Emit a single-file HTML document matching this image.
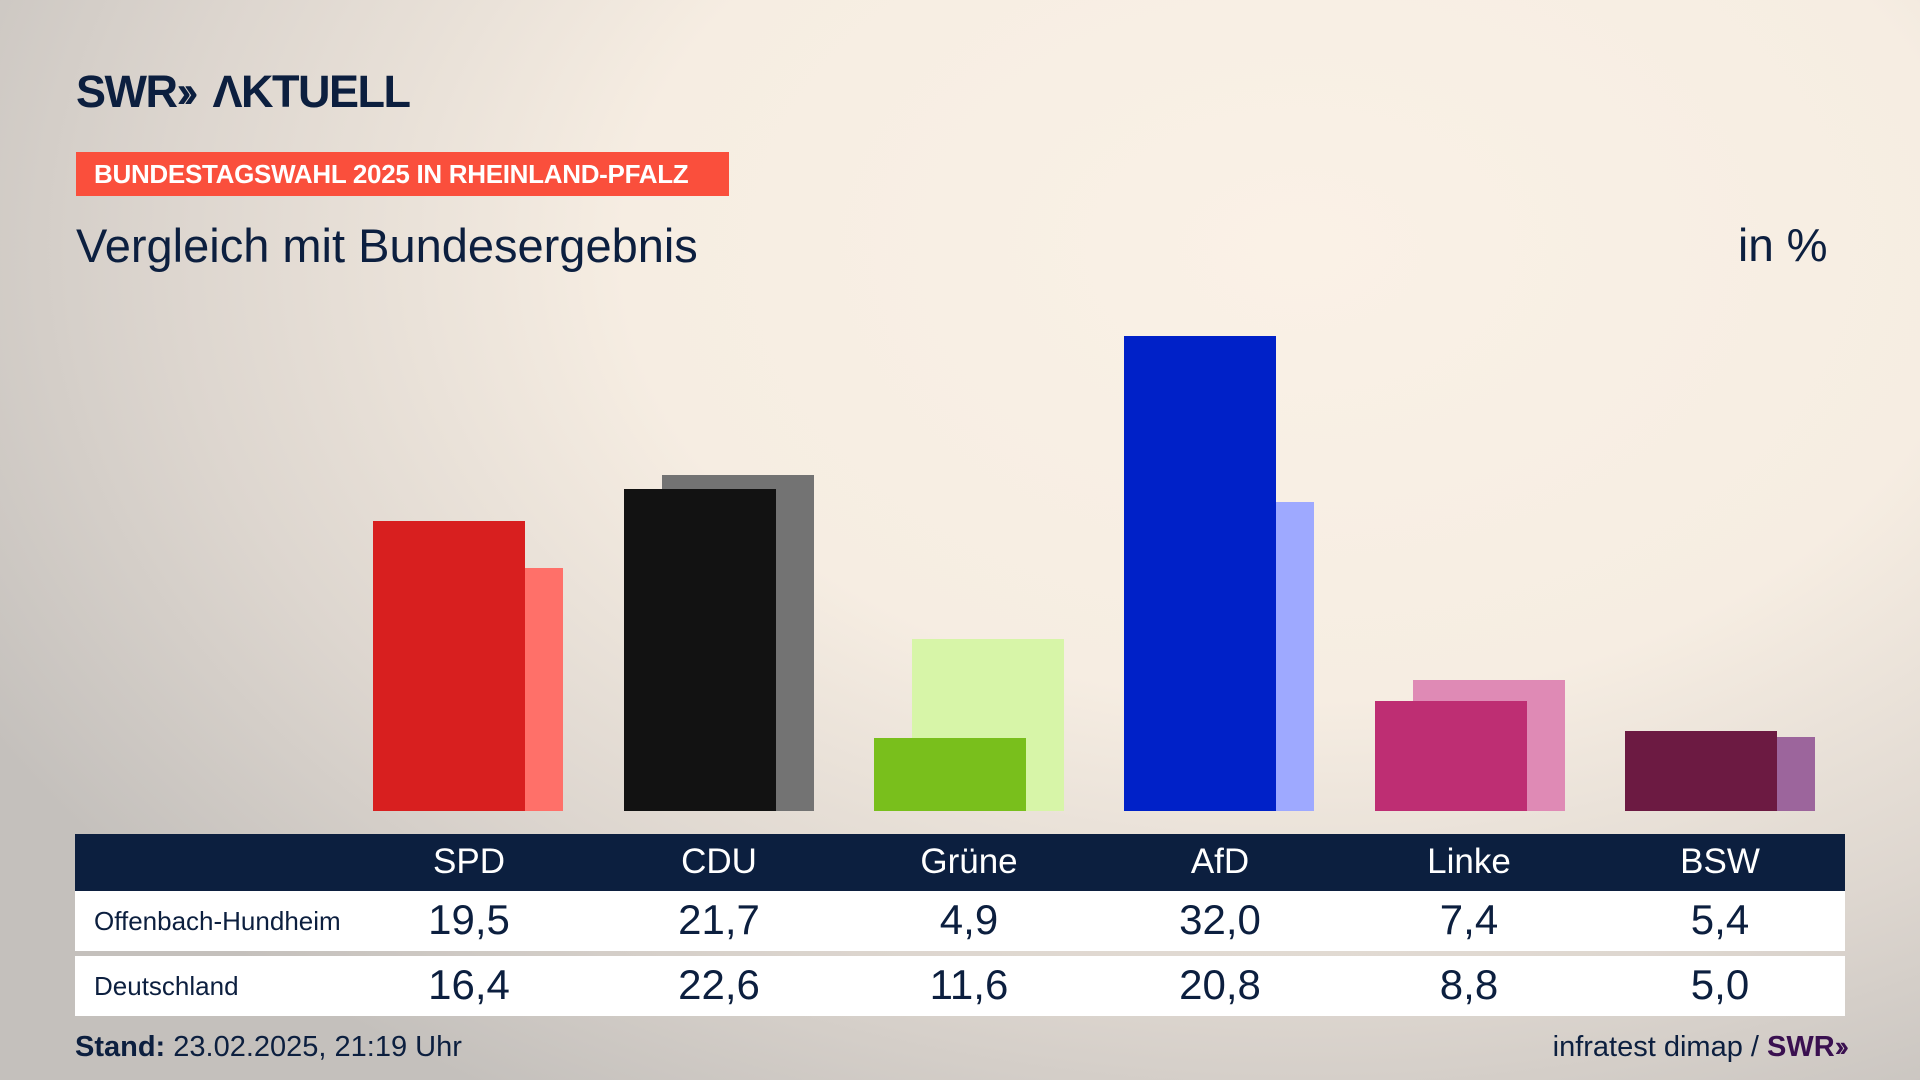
<!DOCTYPE html>
<html><head><meta charset="utf-8"><style>
*{margin:0;padding:0;box-sizing:border-box}
body{width:1920px;height:1080px;overflow:hidden;position:relative;font-family:"Liberation Sans Narrow","Liberation Sans",sans-serif;color:#0c1f3f;
background:radial-gradient(ellipse 1500px 1000px at 1300px 250px,#faf1e6 0%,#f6ede2 45%,#ddd6cf 75%,#c4c0bc 100%);}
.abs{position:absolute}
.bar{position:absolute;width:152px}
.num{position:absolute;width:200px;text-align:center;transform:translateX(-100px)}
</style></head><body>
<div class="abs" style="left:76px;top:66px;font-family:'Liberation Sans',sans-serif;font-weight:bold;font-size:45px;letter-spacing:-1.5px;color:#0c1f3f">SWR<span style="letter-spacing:-8px">››</span>&nbsp; ΛKTUELL</div>
<div class="abs" style="left:76px;top:152px;width:653px;height:44px;background:#fa4f3c;color:#fff;font-weight:bold;font-size:26px;line-height:44px;padding-left:18px;font-family:'Liberation Sans Narrow','Liberation Sans',sans-serif;letter-spacing:-0.3px">BUNDESTAGSWAHL 2025 IN RHEINLAND-PFALZ</div>
<div class="abs" style="left:76px;top:218px;font-size:47px;font-family:'Liberation Sans',sans-serif">Vergleich mit Bundesergebnis</div>
<div class="abs" style="left:1738px;top:218px;font-size:46px;font-family:'Liberation Sans',sans-serif">in %</div>

<div class="bar" style="left:411px;top:568px;height:243px;background:#ff7069"></div>
<div class="bar" style="left:373px;top:521px;height:290px;background:#d81f1f"></div>
<div class="bar" style="left:662px;top:475px;height:336px;background:#737373"></div>
<div class="bar" style="left:624px;top:489px;height:322px;background:#121212"></div>
<div class="bar" style="left:912px;top:639px;height:172px;background:#d7f5a8"></div>
<div class="bar" style="left:874px;top:738px;height:73px;background:#79bf1c"></div>
<div class="bar" style="left:1162px;top:502px;height:309px;background:#9ea9ff"></div>
<div class="bar" style="left:1124px;top:336px;height:475px;background:#0021c8"></div>
<div class="bar" style="left:1413px;top:680px;height:131px;background:#df8ab5"></div>
<div class="bar" style="left:1375px;top:701px;height:110px;background:#be2e73"></div>
<div class="bar" style="left:1663px;top:737px;height:74px;background:#9c659c"></div>
<div class="bar" style="left:1625px;top:731px;height:80px;background:#6c1a42"></div>

<div class="abs" style="left:75px;top:834px;width:1770px;height:57px;background:#0c1f3f"></div>
<div class="abs" style="left:75px;top:891px;width:1770px;height:60px;background:#fff"></div>
<div class="abs" style="left:75px;top:956px;width:1770px;height:60px;background:#fff"></div>
<div class="abs" style="left:0;top:842px;width:1920px;font-size:35px;color:#fff">
<span class="num" style="left:469px">SPD</span><span class="num" style="left:719px">CDU</span><span class="num" style="left:969px">Grüne</span><span class="num" style="left:1220px">AfD</span><span class="num" style="left:1469px">Linke</span><span class="num" style="left:1720px">BSW</span></div>
<div class="abs" style="left:94px;top:906px;font-size:26px">Offenbach-Hundheim</div>
<div class="abs" style="left:0;top:896px;width:1920px;font-size:42px">
<span class="num" style="left:469px">19,5</span><span class="num" style="left:719px">21,7</span><span class="num" style="left:969px">4,9</span><span class="num" style="left:1220px">32,0</span><span class="num" style="left:1469px">7,4</span><span class="num" style="left:1720px">5,4</span></div>
<div class="abs" style="left:94px;top:971px;font-size:26px">Deutschland</div>
<div class="abs" style="left:0;top:961px;width:1920px;font-size:42px">
<span class="num" style="left:469px">16,4</span><span class="num" style="left:719px">22,6</span><span class="num" style="left:969px">11,6</span><span class="num" style="left:1220px">20,8</span><span class="num" style="left:1469px">8,8</span><span class="num" style="left:1720px">5,0</span></div>
<div class="abs" style="left:75px;top:1031px;font-size:29px"><b>Stand:</b> 23.02.2025, 21:19 Uhr</div>
<div class="abs" style="right:76px;top:1031px;font-size:29px">infratest dimap / <b style="color:#3a1050">SWR<span style="letter-spacing:-5px">››</span></b></div>
</body></html>
